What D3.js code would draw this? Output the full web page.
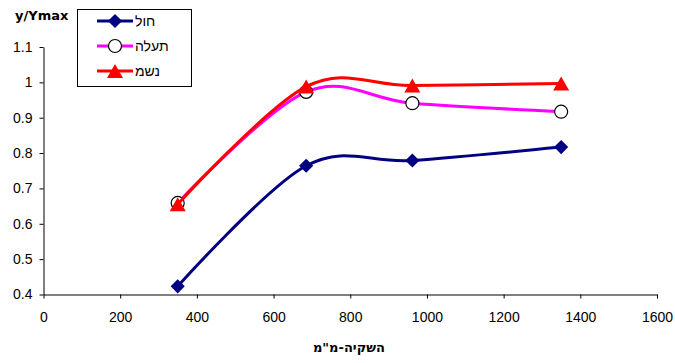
<!DOCTYPE html>
<html lang="he">
<head>
<meta charset="utf-8">
<title>y/Ymax</title>
<script src="https://d3js.org/d3.v7.min.js"></script>
<style>
	body { margin: 0; background: #fff; }
	svg { display: block; font-family: "Liberation Sans", Arial, sans-serif; }
</style>
</head>
<body>
<svg id="chart" width="675" height="363"></svg>
<script>
// irrigation (mm) on x
var irrigation = [350, 685, 962, 1350];
var sandVals = [0.423, 0.764, 0.779, 0.817];     // חול
var channelVals = [0.659, 0.973, 0.941, 0.917];  // תעלה
var rainVals = [0.655, 0.988, 0.991, 0.997];     // נשמ
var seriesNames = ["חול", "תעלה", "נשמ"];
var xTicks = [0, 200, 400, 600, 800, 1000, 1200, 1400, 1600];
var yTicks = [0.4, 0.5, 0.6, 0.7, 0.8, 0.9, 1, 1.1];

var svg = d3.select("#chart");
var x = d3.scaleLinear().domain([0, 1600]).range([43.5, 657]);
var y = d3.scaleLinear().domain([0.4, 1.1]).range([294.5, 47]);

var series = [
	{name: seriesNames[0], values: sandVals, color: "#000080", marker: "diamond"},
	{name: seriesNames[1], values: channelVals, color: "#ff00ff", marker: "circle"},
	{name: seriesNames[2], values: rainVals, color: "#ff0000", marker: "triangle"}
];

//axes
svg.append("g")
	.attr("transform", "translate(0,294.5)")
	.call(d3.axisBottom(x).tickValues(xTicks).tickSize(4).tickPadding(14).tickSizeOuter(0)
		.tickFormat(function (d) { return String(d); }))
	.call(function (g) {
		g.selectAll("text").attr("font-size", 14).attr("font-family", "Liberation Sans");
		g.selectAll("line, path").attr("stroke", "#000");
	});

svg.append("g")
	.attr("transform", "translate(43.5,0)")
	.call(d3.axisLeft(y).tickValues(yTicks).tickSize(4).tickPadding(7).tickSizeOuter(0)
		.tickFormat(function (d) { return String(d); }))
	.call(function (g) {
		g.selectAll("text").attr("font-size", 14).attr("font-family", "Liberation Sans");
		g.selectAll("line, path").attr("stroke", "#000");
	});

// titles
svg.append("text")
	.attr("x", 15).attr("y", 20)
	.attr("font-family", "DejaVu Sans")
	.attr("font-size", 13).attr("font-weight", "bold")
	.text("y/Ymax");

svg.append("text")
	.attr("x", 349).attr("y", 352)
	.attr("text-anchor", "middle")
	.attr("font-family", "DejaVu Sans")
	.attr("font-size", 13).attr("font-weight", "bold")
	.text("השקיה-מ\"מ");

//lines
var line = d3.line()
	.curve(d3.curveCardinal.tension(0))
	.x(function (d) { return x(d.x); })
	.y(function (d) { return y(d.y); });

function markerPath(type) {
	if (type == "diamond") return d3.symbol(d3.symbolSquare, 100)();
	if (type == "circle") return d3.symbol(d3.symbolCircle, 133)();
	return "M0,-7L8,7L-8,7Z";
}

function drawMarker(g, s) {
	var m = g.append("path").attr("d", markerPath(s.marker));
	if (s.marker == "circle") {
		m.attr("fill", "#fff").attr("stroke", "#000").attr("stroke-width", 1.2);
	} else {
		m.attr("fill", s.color);
	}
	if (s.marker == "diamond") m.attr("transform", "rotate(45)");
	return m;
}

series.forEach(function (s) {
	var pts = irrigation.map(function (v, i) { return {x: v, y: s.values[i]}; });
	svg.append("path")
		.attr("d", line(pts))
		.attr("fill", "none")
		.attr("stroke", s.color)
		.attr("stroke-width", 3);
	pts.forEach(function (p) {
		var g = svg.append("g").attr("transform", "translate(" + x(p.x) + "," + y(p.y) + ")");
		drawMarker(g, s);
	});
});

// legend
var legend = svg.append("g");
legend.append("rect")
	.attr("x", 77.5).attr("y", 9.5).attr("width", 114).attr("height", 77)
	.attr("fill", "#fff").attr("stroke", "#000");

var legendY = [21, 46, 71];
series.forEach(function (s, i) {
	var g = legend.append("g").attr("transform", "translate(0," + legendY[i] + ")");
	g.append("line")
		.attr("x1", 97).attr("x2", 133)
		.attr("stroke", s.color).attr("stroke-width", 3);
	var mg = g.append("g").attr("transform", "translate(115,0)");
	drawMarker(mg, s);
	g.append("text")
		.attr("x", 135).attr("y", 5)
		.attr("font-size", 14)
		.text(s.name);
});
</script>
</body>
</html>
